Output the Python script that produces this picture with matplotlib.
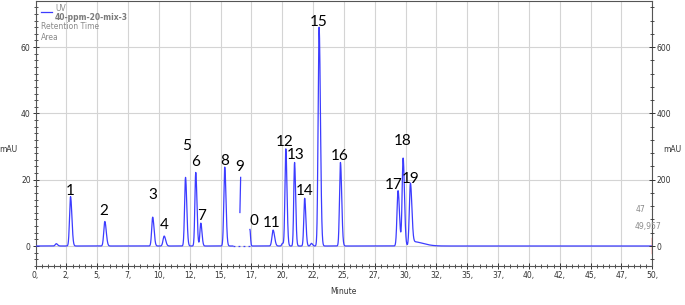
import numpy as np
import matplotlib
matplotlib.use("Agg")
import matplotlib.pyplot as plt
from matplotlib.ticker import MultipleLocator, FixedLocator

# ---------------- data ----------------
peak_times   = [1.68, 2.84, 5.62, 9.50, 10.43, 12.16, 12.99, 13.40, 15.34,
                19.26, 20.02, 20.29, 21.00, 21.82, 22.36, 22.99, 24.72,
                29.39, 29.80, 30.39]
peak_heights = [0.7, 14.9, 7.4, 8.7, 3.0, 20.7, 22.2, 6.9, 23.8,
                4.8, 0.8, 29.3, 25.2, 14.4, 0.8, 66.0, 25.2,
                16.7, 26.5, 18.5]
peak_widths  = [0.08, 0.08, 0.085, 0.08, 0.09, 0.075, 0.07, 0.07, 0.075,
                0.09, 0.06, 0.07, 0.065, 0.07, 0.07, 0.08, 0.075,
                0.085, 0.08, 0.085]

# broad tail after the last cluster
tail_time, tail_height, tail_width = 30.6, 1.3, 0.8

# fragment of peak 9 and partial peak "0" inside the data gap
gap_start, gap_end = 16.0, 17.38
frag9_t = [16.57, 16.63]
frag9_y = [10.1, 20.7]
peak0_time, peak0_height, peak0_width = 17.38, 5.0, 0.05

label_texts = ["1", "2", "3", "4", "5", "6", "7", "8", "9", "0", "11", "12",
               "13", "14", "15", "16", "17", "18", "19"]
label_t = [2.85, 5.57, 9.50, 10.41, 12.25, 12.95, 13.47, 15.30, 16.57, 17.71,
           19.16, 20.22, 21.11, 21.78, 22.95, 24.68, 29.00, 29.76, 30.43]
label_y = [16.7, 10.6, 15.5, 6.4, 30.1, 25.2, 8.9, 25.5, 23.9, 7.6,
           7.0, 31.5, 27.5, 16.7, 67.7, 27.3, 18.5, 31.6, 20.3]

x_ticks = [0, 2.5, 5, 7.5, 10, 12.5, 15, 17.5, 20, 22.5, 25, 27.5, 30, 32.5,
           35, 37.5, 40, 42.5, 45, 47.5, 50]
x_tick_labels = ["0,", "2,", "5,", "7,", "10,", "12,", "15,", "17,", "20,", "22,",
                 "25,", "27,", "30,", "32,", "35,", "37,", "40,", "42,", "45,",
                 "47,", "50,"]
left_ticks = [0, 20, 40, 60]
right_ticks = [0, 200, 400, 600]

legend_lines = ["UV", "40-ppm-20-mix-3", "Retention Time", "Area"]
side_texts = ["47", "49,957"]

# ---------------- signal ----------------
t = np.linspace(0, 50, 10001)
sig = np.zeros_like(t)
for tc, h, w in zip(peak_times, peak_heights, peak_widths):
    wl = w
    wr = w * 1.35
    d = t - tc
    sig += h * np.where(d < 0, np.exp(-0.5 * (d / wl) ** 2), np.exp(-0.5 * (d / wr) ** 2))
d = t - tail_time
sig += tail_height * np.where(d < 0, np.exp(-0.5 * (d / 0.15) ** 2),
                              np.exp(-0.5 * (d / tail_width) ** 2))
d = t - peak0_time
sig += np.where(d >= 0, peak0_height * np.exp(-0.5 * (d / peak0_width) ** 2), 0)

main = sig.copy()
gapmask = (t > gap_start) & (t < gap_end)
main[gapmask] = np.nan
gap_t = t[(t >= gap_start) & (t <= gap_end)]
gap_y = np.zeros_like(gap_t)

# ---------------- figure ----------------
W, H = 685, 305
fig = plt.figure(figsize=(W / 100, H / 100), dpi=100)
ax_left, ax_right = 35.5, 652.3
ax_top, ax_bot = 1.0, 266.0
zero_px, px_per_unit = 246.0, 3.315
ymax = (zero_px - ax_top) / px_per_unit
ymin = -(ax_bot - zero_px) / px_per_unit
ax = fig.add_axes([ax_left / W, 1 - ax_bot / H, (ax_right - ax_left) / W, (ax_bot - ax_top) / H])

blue = "#3c3cff"
ax.plot(t, main, color=blue, lw=0.9, zorder=3)
ax.plot(gap_t, gap_y, color=blue, lw=0.9, ls=(0, (1.5, 2.5)), zorder=3)
ax.plot(frag9_t, frag9_y, color=blue, lw=0.9, zorder=3)
ax.plot([50, 50], [2.4, -2.2], color="#ff3030", lw=1.0, zorder=4)

ax.set_xlim(0, 50)
ax.set_ylim(ymin, ymax)

ax.xaxis.set_major_locator(FixedLocator(x_ticks))
ax.set_xticklabels(x_tick_labels)
ax.xaxis.set_minor_locator(MultipleLocator(0.5))
ax.yaxis.set_major_locator(FixedLocator(left_ticks))
ax.set_yticklabels([str(v) for v in left_ticks])
ax.yaxis.set_minor_locator(MultipleLocator(2))

ax.grid(True, which="major", color="#d4d4d4", lw=0.8, zorder=0)
ax.set_axisbelow(True)

tick_col = "#333333"
ax.tick_params(axis="both", which="major", direction="inout", length=4, width=0.7,
               labelsize=5.5, colors=tick_col, pad=1.5)
ax.tick_params(axis="both", which="minor", direction="inout", length=2.2, width=0.6,
               colors=tick_col)
for s in ["left", "bottom", "top", "right"]:
    ax.spines[s].set_color("#555555")
    ax.spines[s].set_linewidth(0.8)

ax2 = ax.twinx()
ax2.set_ylim(ymin * 10, ymax * 10)
ax2.yaxis.set_major_locator(FixedLocator(right_ticks))
ax2.set_yticklabels([str(v) for v in right_ticks])
ax2.yaxis.set_minor_locator(MultipleLocator(40))
ax2.tick_params(axis="y", which="major", direction="inout", length=4, width=0.7,
                labelsize=5.5, colors=tick_col, pad=1)
ax2.tick_params(axis="y", which="minor", direction="inout", length=2.2, width=0.6,
                colors=tick_col)
for s in ["left", "bottom", "top", "right"]:
    ax2.spines[s].set_visible(False)

fig.text(8.5 / W, 1 - 150 / H, "mAU", fontsize=5.5, color=tick_col, ha="center", va="center")
fig.text(672 / W, 1 - 150 / H, "mAU", fontsize=5.5, color=tick_col, ha="center", va="center")
ax.set_xlabel("Minute", fontsize=5.5, color=tick_col, labelpad=5)

# peak labels
for txt, lx, ly in zip(label_texts, label_t, label_y):
    ax.text(lx, ly, txt, fontsize=11, family="Lato", color="black",
            ha="center", va="center", zorder=5)

# legend block
lg = "#8a8a8a"
fig.lines.append(plt.Line2D([41 / W, 52 / W], [1 - 12.3 / H, 1 - 12.3 / H],
                            color=blue, lw=0.9, transform=fig.transFigure))
fig.text(55 / W, 1 - 8.5 / H, legend_lines[0], fontsize=5.5, color=lg, ha="left", va="center")
fig.text(55 / W, 1 - 17 / H, legend_lines[1], fontsize=5.5, color="#7a7a7a",
         fontweight="bold", ha="left", va="center")
fig.text(41 / W, 1 - 26.5 / H, legend_lines[2], fontsize=5.5, color=lg, ha="left", va="center")
fig.text(41 / W, 1 - 37 / H, legend_lines[3], fontsize=5.5, color=lg, ha="left", va="center")

fig.text(641 / W, 1 - 209 / H, side_texts[0], fontsize=5.5, color=lg, ha="center", va="center")
fig.text(648 / W, 1 - 227 / H, side_texts[1], fontsize=5.5, color=lg, ha="center", va="center")

fig.savefig("out.png", dpi=100)
